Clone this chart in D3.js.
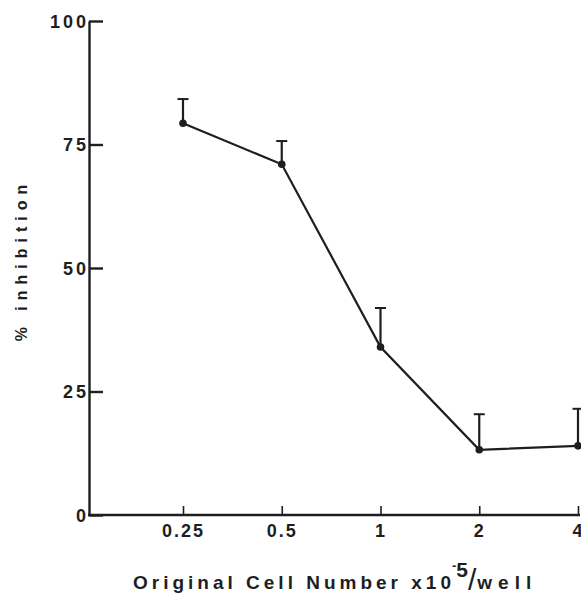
<!DOCTYPE html>
<html>
<head>
<meta charset="utf-8">
<script src="https://cdn.jsdelivr.net/npm/d3@7"></script>
<style>
  body { margin: 0; background: #fff; }
  svg text { font-family: "Liberation Sans", Arial, sans-serif; font-weight: bold; fill: #1e1e1e; }
</style>
</head>
<body>
<div id="chart"></div>
<script>
// data
const cellNumbers = [0.25, 0.5, 1, 2, 4];
const inhibition = [79.3, 71.0, 34.0, 13.2, 14.0];
const errorUpper = [84.2, 75.7, 41.9, 20.4, 21.5];
const yTicks = [0, 25, 50, 75, 100];

const width = 581, height = 597;
const ink = "#1e1e1e";

let svg = d3.select("#chart").append("svg")
    .attr("width", width)
    .attr("height", height);

let x = d3.scaleLog().base(2)
    .domain([0.25, 4])
    .range([183, 578]);
let y = d3.scaleLinear()
    .domain([0, 100])
    .range([515, 21]);

// y axis, ticks point inward
let yAxis = svg.append("g")
    .attr("transform", "translate(89,0)")
    .call(d3.axisLeft(y).tickValues(yTicks).tickSizeInner(-14).tickSizeOuter(0).tickPadding(0));
yAxis.selectAll("path, line").attr("stroke", ink).attr("stroke-width", 2.4);
yAxis.selectAll("text")
    .style("font-size", "18px")
    .style("letter-spacing", "3px")
    .attr("dy", "0.36em");

// x axis
let xAxis = svg.append("g")
    .attr("transform", "translate(0,515)")
    .call(d3.axisBottom(x).tickValues(cellNumbers).tickFormat(d => String(d)).tickSizeInner(-9).tickSizeOuter(0).tickPadding(9));
xAxis.select(".domain").remove();
xAxis.selectAll("line").attr("stroke", ink).attr("stroke-width", 1.6);
xAxis.selectAll("text")
    .style("font-size", "18px")
    .style("letter-spacing", "2px");
svg.append("line")
    .attr("x1", 88).attr("x2", 580)
    .attr("y1", 515).attr("y2", 515)
    .attr("stroke", ink).attr("stroke-width", 2.4);

// error bars (upper only)
let rows = cellNumbers.map((c, i) => ({c: c, v: inhibition[i], e: errorUpper[i]}));
let bars = svg.append("g").selectAll("g").data(rows).enter().append("g");
bars.append("line")
    .attr("x1", d => x(d.c)).attr("x2", d => x(d.c))
    .attr("y1", d => y(d.v)).attr("y2", d => y(d.e))
    .attr("stroke", ink).attr("stroke-width", 2.2);
bars.append("line")
    .attr("x1", d => x(d.c) - 5.5).attr("x2", d => x(d.c) + 5.5)
    .attr("y1", d => y(d.e)).attr("y2", d => y(d.e))
    .attr("stroke", ink).attr("stroke-width", 2);

// the line and points
let line = d3.line().x(d => x(d.c)).y(d => y(d.v));
svg.append("path")
    .datum(rows)
    .attr("d", line)
    .attr("fill", "none")
    .attr("stroke", ink)
    .attr("stroke-width", 2.2);
svg.append("g").selectAll("circle").data(rows).enter().append("circle")
    .attr("cx", d => x(d.c))
    .attr("cy", d => y(d.v))
    .attr("r", 3.8)
    .attr("fill", ink);

// axis titles
let xt = svg.append("text")
    .attr("x", 133).attr("y", 589)
    .style("font-size", "19px")
    .style("letter-spacing", "4px");
xt.append("tspan").text("Original Cell Number  x10");
xt.append("tspan").attr("dy", -19).attr("dx", -3).style("font-size", "13px").style("letter-spacing", "0px").text("-");
xt.append("tspan").attr("dy", 7).style("font-size", "21px").style("letter-spacing", "0px").text("5");
xt.append("tspan").attr("dy", 13).attr("dx", 0).style("font-size", "30px").style("font-weight", "normal").style("letter-spacing", "0px").text("/");
xt.append("tspan").attr("dy", -1).attr("dx", 1).style("font-size", "19px").style("letter-spacing", "6px").text("well");

svg.append("text")
    .attr("transform", "translate(27,260) rotate(-90)")
    .attr("text-anchor", "middle")
    .style("font-size", "16px")
    .style("letter-spacing", "6px")
    .text("% inhibition");
</script>
</body>
</html>
